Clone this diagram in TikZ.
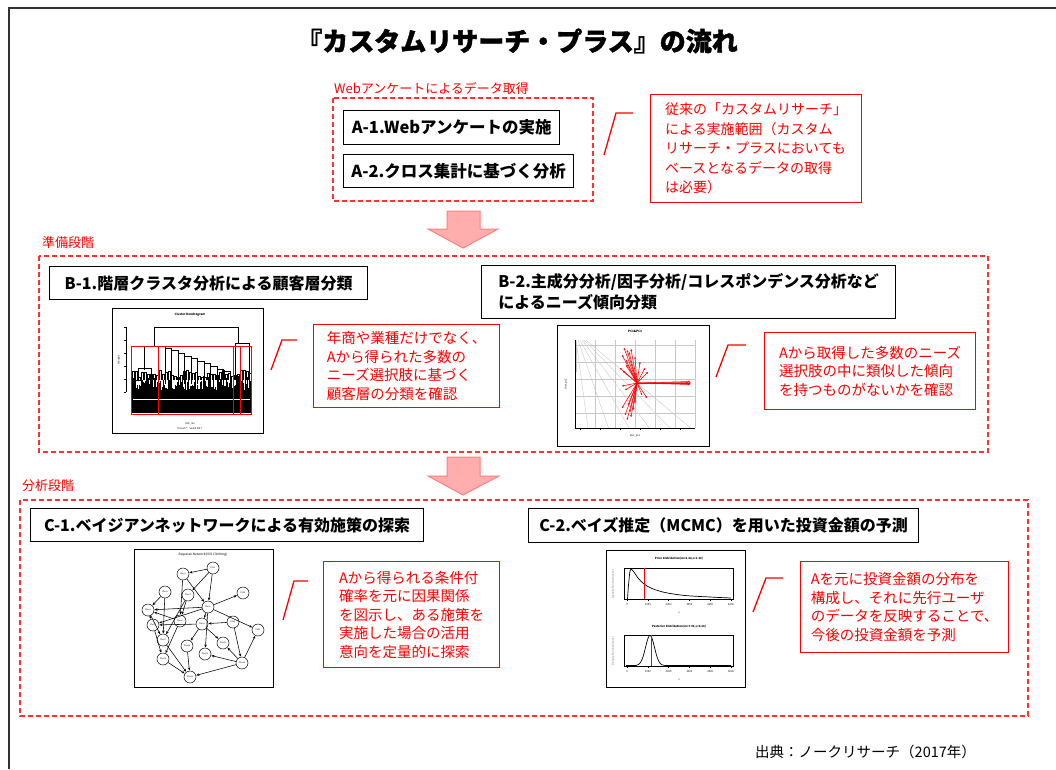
\documentclass[tikz,border=0pt]{standalone}
\usepackage{fontspec}
\setmainfont{Noto Sans CJK JP}
\newfontfamily\titlefont{Noto Sans CJK JP}[BoldFeatures={FakeBold=1.5}]
\usetikzlibrary{arrows.meta}
\definecolor{pinkfill}{HTML}{FFADAD}
\definecolor{pinkdraw}{HTML}{FF8080}
\definecolor{dashred}{HTML}{FF3030}
\definecolor{gridgray}{HTML}{C8C8C8}
\begin{document}
\begin{tikzpicture}[x=1pt,y=-1pt,
  titlebox/.style={draw=black, line width=1.3pt, fill=white, font=\bfseries\fontsize{16}{21}\selectfont, inner sep=0pt, anchor=north west},
  callout/.style={draw=red, line width=1.3pt, text=red, font=\fontsize{14.5}{18.5}\selectfont, align=left, inner sep=0pt, anchor=north west},
  phasebox/.style={draw=dashred, line width=1.2pt, dash pattern=on 5pt off 3pt},
  phaselabel/.style={text=red, font=\fontsize{13}{15}\selectfont, anchor=west, inner sep=0pt},
  leader/.style={draw=red, line width=1.3pt},
  bigarrow/.style={fill=pinkfill, draw=pinkdraw, line width=1pt, line join=miter},
  imgframe/.style={draw=black, line width=1pt, fill=white},
  tiny/.style={font=\fontsize{2.6}{3}\selectfont, inner sep=0pt},
  bnnode/.style={circle, draw=black, line width=0.5pt, fill=white, minimum size=12pt, inner sep=0pt, font=\fontsize{2}{2}\selectfont},
  bnedge/.style={-{Stealth[length=3pt,width=2.6pt]}, line width=0.55pt, shorten >=0.3pt},
  pcarrow/.style={-{Stealth[length=2pt,width=2pt]}, draw=red, line width=0.55pt}
]
\useasboundingbox (0,0) rectangle (1056,769);
\fill[white] (0,0) rectangle (1056,769);
% outer frame
\draw[line width=2.2pt, black!80] (9,769) -- (9,8) -- (1056,8);

% title
\node[font=\titlefont\bfseries\fontsize{26}{30}\selectfont] (title) at (517,41) {『カスタムリサーチ・プラス』の流れ};

% ---------- Section A ----------
\node[phaselabel] (labA) at (334,88) {Webアンケートによるデータ取得};
\draw[phasebox] (333,98) rectangle (593,201);
\node[titlebox, font=\bfseries\fontsize{16.5}{21}\selectfont, minimum width=216pt, minimum height=34pt] (a1) at (343,110) {A-1.Webアンケートの実施};
\node[titlebox, font=\bfseries\fontsize{16.5}{21}\selectfont, minimum width=230pt, minimum height=33pt] (a2) at (343,154) {A-2.クロス集計に基づく分析};
\draw[leader] (604,155) -- (616,113) -- (633,113);
\node[callout, font=\fontsize{14}{19.5}\selectfont, minimum width=211pt, minimum height=108pt] (ca) at (650,94) {従来の「カスタムリサーチ」\\による実施範囲（カスタム\\リサーチ・プラスにおいても\\ベースとなるデータの取得\\は必要）};

% arrow 1
\draw[bigarrow] (447,211) -- (480,211) -- (480,229) -- (498,229) -- (463,248) -- (428,229) -- (447,229) -- cycle;

% ---------- Section B ----------
\node[phaselabel] (labB) at (42,243) {準備段階};
\draw[phasebox] (39,256) rectangle (988,452);
\node[titlebox, minimum width=318pt, minimum height=33pt] (b1) at (49,266) {B-1.階層クラスタ分析による顧客層分類};
\node[titlebox, align=left, minimum width=414pt, minimum height=53pt] (b2) at (481,265) {B-2.主成分分析/因子分析/コレスポンデンス分析など\\によるニーズ傾向分類};

% dendrogram image
\draw[imgframe] (112,308) rectangle (263,433);
\node[tiny, font=\bfseries\fontsize{3}{3}\selectfont] (dtitle) at (190,315) {Cluster Dendrogram};
\draw[line width=0.3pt] (126,327) -- (126,392);
\foreach \t in {327,340,353,366,379,392} \draw[line width=0.3pt] (126,\t) -- (124,\t);
\node[tiny, rotate=90] (dylab) at (119,360) {Height};
\pgfmathsetseed{7}
\foreach \i in {0,...,119}{
  \pgfmathsetmacro{\h}{376+rnd*14}
  \draw[line width=0.8pt] (131.5+\i,413) -- (131.5+\i,\h);
}
\foreach \i in {0,...,39}{
  \pgfmathsetmacro{\h}{370+rnd*8}
  \pgfmathsetmacro{\xx}{132+3*\i}
  \draw[line width=0.4pt] (\xx,380) -- (\xx,\h) -- (\xx+2,\h) -- (\xx+2,380);
}
\draw[white, line width=0.5pt] (133,399) -- (250,399);
\begin{scope}[line width=0.5pt]
\draw (154,346) -- (154,327) -- (238,327) -- (238,343);
\draw (144,370) -- (144,346) -- (165,346) -- (165,348);
\draw (138,380) -- (138,368) -- (151,368) -- (151,378);
\draw (134,386) -- (134,380) -- (142,380) -- (142,386);
\draw (147,386) -- (147,378) -- (155,378) -- (155,386);
\foreach \i in {0,...,9}{
  \pgfmathsetmacro{\xa}{165+6.5*\i}
  \pgfmathsetmacro{\xb}{165+6.5*(\i+1)}
  \pgfmathsetmacro{\ya}{348+2.6*\i}
  \pgfmathsetmacro{\yb}{348+2.6*(\i+1)}
  \draw (\xa,384) -- (\xa,\ya) -- (\xb,\ya) -- (\xb,\yb);
}
\draw (230,384) -- (230,374);
\draw (235,380) -- (235,343) -- (249,343) -- (249,376);
\end{scope}
\begin{scope}[draw=red, line width=0.8pt]
\draw (131,346) rectangle (158,414);
\draw (158,346) rectangle (233,414);
\draw (233,346) rectangle (240,414);
\draw (240,346) rectangle (251,414);
\end{scope}
\node[tiny] (dxlab) at (190,424) {dist\_res};
\node[tiny] (dxlab2) at (190,429) {hclust (*, "ward.D2")};

\draw[leader] (271,370) -- (282,340) -- (297,340);
\node[callout, minimum width=186pt, minimum height=83pt] (cb1) at (313,324) {年商や業種だけでなく、\\Aから得られた多数の\\ニーズ選択肢に基づく\\顧客層の分類を確認};

% PCA image
\draw[imgframe] (557,325) rectangle (709,446);
\node[tiny, font=\bfseries\fontsize{3}{3}\selectfont] (ptitle) at (635,331) {PC1\&PC3};
\foreach \gx in {575,595,615,635,655,675,695} \draw[gridgray, line width=0.4pt] (\gx,340) -- (\gx,428);
\foreach \gy in {345,362,379,396,413} \draw[gridgray, line width=0.4pt] (575,\gy) -- (695,\gy);
\foreach \k in {0,...,5} \draw[gridgray, line width=0.4pt] (576+2*\k,340) -- (588+20.5*\k,428);
\draw[gridgray, line width=0.4pt] (576,343) -- (576,372);
\draw[line width=0.3pt] (575,340) -- (575,428) -- (695,428);
\foreach \gx in {580,600,620,640,660,680} \draw[line width=0.3pt] (\gx,428) -- (\gx,430);
\coordinate (pc) at (637,383);
\foreach \ex/\ey in {690/381.5,691/383,690/384.5,688/382.5,689/383.8,
    624/348,627/350,629/352,622/355,631/349,635/357,626/360,
    620/368,623/371,626/365,
    627/420,625/415,630/412,633/410,628/405,635/403,622/408,631/417,
    647/398,648/372,645/368,622/386,625/390,640/362,642/395}
  \draw[pcarrow] (pc) -- (\ex,\ey);
\node[tiny] (pxlab) at (635,436) {dist\_pc1};
\node[tiny, rotate=90] (pylab) at (566,384) {dist\_pc3};

\draw[leader] (716,377) -- (728,345) -- (746,345);
\node[callout, minimum width=211pt, minimum height=77pt] (cb2) at (764,332) {Aから取得した多数のニーズ\\選択肢の中に類似した傾向\\を持つものがないかを確認};

% arrow 2
\draw[bigarrow] (447,457) -- (480,457) -- (480,476) -- (499,476) -- (463,495) -- (428,476) -- (447,476) -- cycle;

% ---------- Section C ----------
\node[phaselabel] (labC) at (22,486) {分析段階};
\draw[phasebox] (20,500) rectangle (1028,716);
\node[titlebox, minimum width=393pt, minimum height=33pt] (c1) at (30,508) {C-1.ベイジアンネットワークによる有効施策の探索};
\node[titlebox, minimum width=390pt, minimum height=34pt] (c2) at (528,508) {C-2.ベイズ推定（MCMC）を用いた投資金額の予測};

% Bayesian network image
\draw[imgframe] (134,549) rectangle (273,687);
\node[tiny, font=\fontsize{3.2}{3.2}\selectfont] (bntitle) at (203,555) {Bayesian Network(Hill-Climbing)};
\node[bnnode] (n1) at (213,568) {PS35};
\node[bnnode] (n2) at (183,574) {Plan1};
\node[bnnode] (n3) at (165,592) {Plan2};
\node[bnnode] (n4) at (188,595) {Plan3};
\node[bnnode] (n5) at (243,593) {PS18};
\node[bnnode] (n6) at (148,610) {Plan4};
\node[bnnode] (n7) at (208,607) {Plan5};
\node[bnnode] (n8) at (180,621) {Plan6};
\node[bnnode] (n9) at (153,625) {Plan7};
\node[bnnode] (n10) at (202,624) {Plan8};
\node[bnnode] (n11) at (233,622) {PS46};
\node[bnnode] (n12) at (258,630) {PS45};
\node[bnnode] (n13) at (163,640) {Plan9};
\node[bnnode] (n14) at (187,646) {Plan10};
\node[bnnode] (n15) at (223,643) {Plan11};
\node[bnnode] (n16) at (205,654) {Plan12};
\node[bnnode] (n17) at (163,659) {Plan13};
\node[bnnode] (n18) at (242,663) {Plan14};
\node[bnnode] (n19) at (190,677) {Plan15};
\foreach \a/\b in {n1/n2,n1/n7,n1/n4,n2/n7,n4/n8,n3/n13,n7/n5,n7/n6,n7/n12,n7/n10,n7/n16,
  n11/n10,n11/n18,n18/n12,n18/n16,n18/n19,n18/n15,n6/n9,n6/n13,n8/n6,n10/n14,n10/n9,
  n13/n19,n17/n19,n9/n17,n3/n6,n2/n8,n4/n13,n14/n19,n8/n17,n10/n15,n7/n9}
  \draw[bnedge] (\a) -- (\b);

\draw[leader] (283,620) -- (294,581) -- (308,581);
\node[callout, minimum width=176pt, minimum height=106pt] (cc1) at (323,561) {Aから得られる条件付\\確率を元に因果関係\\を図示し、ある施策を\\実施した場合の活用\\意向を定量的に探索};

% MCMC image
\draw[imgframe] (606,550) rectangle (745,687);
\node[tiny, font=\bfseries\fontsize{2.8}{3}\selectfont] (prtitle) at (679,559) {Prior Distribution(m=6.42,s=1.30)};
\draw[line width=0.6pt] (624,568) rectangle (733,599);
\draw[line width=0.7pt] plot[smooth] coordinates {(627.5,599) (628.5,585) (630,571) (631.5,569.5) (634,572) (638,578) (644,584) (652,588.5) (665,592.5) (685,595.5) (710,597) (731,598)};
\draw[red, line width=0.8pt] (644,568) -- (644,599);
\node[tiny, font=\bfseries\fontsize{2.8}{3}\selectfont] (potitle) at (679,627) {Posterior Distribution(m=7.03,s=0.18)};
\draw[line width=0.6pt] (624,635) rectangle (733,666);
\draw[line width=0.7pt] (626,665.5) -- (636,665.5) -- plot[domain=636:666, samples=60] (\x,{665.5-30*exp(-((\x-650)*(\x-650))/40)}) -- (731,665.5);
\draw[red, line width=0.8pt] (651,635) -- (651,666);
\foreach \k/\lab in {0/0,1/1000,2/2000,3/3000,4/4000,5/5000}{
  \draw[line width=0.3pt] (627+20.8*\k,599) -- (627+20.8*\k,601);
  \node[tiny] at (627+20.8*\k,605) {\lab};
  \draw[line width=0.3pt] (627+20.8*\k,666) -- (627+20.8*\k,668);
  \node[tiny] at (627+20.8*\k,672) {\lab};
}
\node[tiny] (mx1) at (679,613) {x};
\node[tiny] (mx2) at (679,680) {x};
\node[tiny, rotate=90, text=black!60] (my1) at (613,584) {Density Function(Conv)};
\node[tiny, rotate=90, text=black!60] (my2) at (613,651) {Density Function(Conv)};

\draw[leader] (753,612) -- (766,578) -- (783,578);
\node[callout, minimum width=208pt, minimum height=91pt] (cc2) at (800,561) {Aを元に投資金額の分布を\\構成し、それに先行ユーザ\\のデータを反映することで、\\今後の投資金額を予測};

% source
\node[font=\fontsize{14.5}{16}\selectfont, anchor=west, inner sep=0pt] (src) at (755,752) {出典：ノークリサーチ（2017年）};
\end{tikzpicture}
\end{document}
